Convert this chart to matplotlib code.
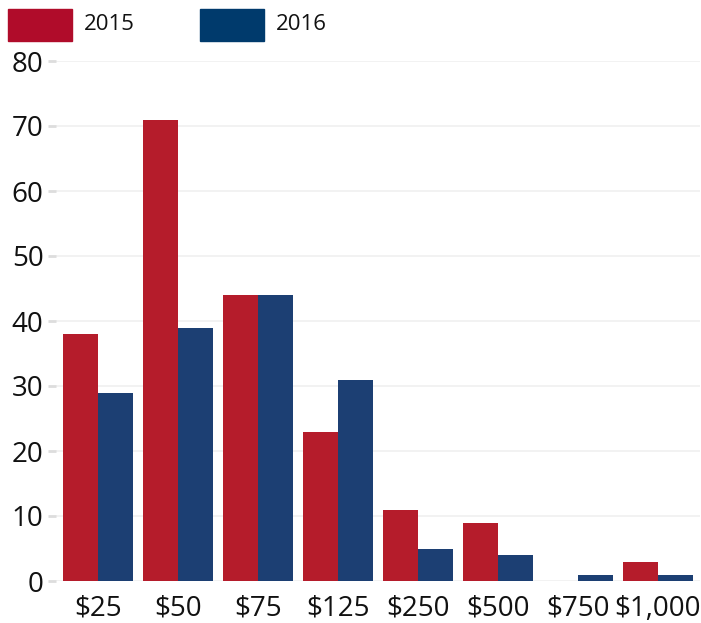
import numpy as np
import matplotlib.pyplot as plt
from matplotlib.patches import Rectangle

plt.rcParams['font.family'] = ['Open Sans', 'DejaVu Sans']

categories = ['$25', '$50', '$75', '$125', '$250', '$500', '$750', '$1,000']
years = ['2015', '2016']
values_2015 = [38, 71, 44, 23, 11, 9, 0, 3]
values_2016 = [29, 39, 44, 31, 5, 4, 1, 1]
colors = ['#B51C2B', '#1C3F73']
legend_colors = ['#B00C2A', '#003A6C']
yticks = [0, 10, 20, 30, 40, 50, 60, 70, 80]

fig = plt.figure(figsize=(7.01, 6.23), dpi=100)
ax = fig.add_axes([56 / 701, 42 / 623, 644 / 701, 520 / 623])

x = np.arange(len(categories))
w = 0.4375
ax.bar(x - w / 2, values_2015, width=w, color=colors[0], zorder=2)
ax.bar(x + w / 2, values_2016, width=w, color=colors[1], zorder=2)

ax.set_xlim(-0.525, len(categories) - 0.475)
ax.set_ylim(0, 80)
ax.set_yticks(yticks)
ax.set_yticklabels([str(v) for v in yticks], fontsize=20, color='#111111')
ax.set_xticks(x)
ax.set_xticklabels(categories, fontsize=20, color='#111111')
ax.tick_params(axis='x', length=0, pad=10)
ax.tick_params(axis='y', length=6, width=2, color='#DDDDDD', pad=3)
ax.grid(axis='y', color='#F0F0F0', linewidth=1.2, zorder=0)
for s in ax.spines.values():
    s.set_visible(False)

# legend
for i, (lab, c) in enumerate(zip(years, legend_colors)):
    x0 = 8 + i * 192
    fig.add_artist(Rectangle((x0 / 701, 1 - 41 / 623), 64 / 701, 32 / 623,
                             transform=fig.transFigure, color=c))
    fig.text((x0 + 76) / 701, 1 - 25 / 623, lab, fontsize=16,
             va='center', ha='left', color='#111111')

fig.savefig('out.png', dpi=100)
